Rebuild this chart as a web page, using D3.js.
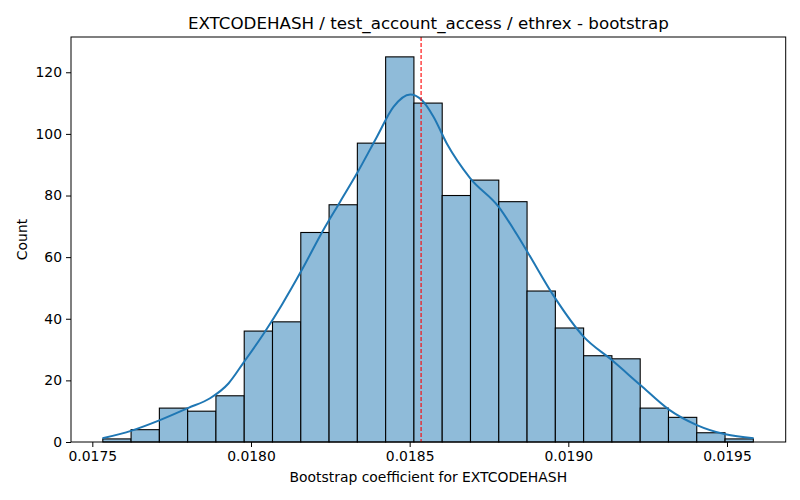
<!DOCTYPE html>
<html>
<head>
<meta charset="utf-8">
<script src="https://cdn.jsdelivr.net/npm/d3@7"></script>
<style>
  body { margin: 0; background: #fff; }
  svg text { font-family: "DejaVu Sans", sans-serif; fill: #000; }
</style>
</head>
<body>
<div class="chart"></div>
<script>
// histogram counts, one per bin
var counts = [1, 4, 11, 10, 15, 36, 39, 68, 77, 97, 125, 110, 80, 85, 78, 49, 37, 28, 27, 11, 8, 3, 1];
var binStart = 0.017533;
var binEnd = 0.019583;

// kde curve (scaled to counts)
var kdeX = [0.017532, 0.017624, 0.017713, 0.017803, 0.017871, 0.017929, 0.017976, 0.018044,
  0.018097, 0.018160, 0.018228, 0.018281, 0.018334, 0.018397, 0.018449, 0.018502, 0.018538,
  0.018575, 0.018617, 0.018691, 0.018780, 0.018837, 0.018874, 0.018959, 0.019048, 0.019137,
  0.019227, 0.019316, 0.019405, 0.019495, 0.019584];
var kdeY = [1.2, 3.7, 7.1, 11.1, 14.2, 19.0, 25.7, 35.8, 44.5, 55.8, 68.8, 78.0, 87.2, 99.1,
  108.8, 112.8, 111.0, 105.6, 96.9, 85.6, 76.4, 67.5, 61.2, 46.6, 34.2, 26.6, 18.5, 10.6,
  5.5, 2.5, 1.2];

var meanValue = 0.018536;
var xTicks = [0.0175, 0.0180, 0.0185, 0.0190, 0.0195];
var yTicks = [0, 20, 40, 60, 80, 100, 120];

var width = 800;
var height = 500;
var margin = { top: 37, right: 14.3, bottom: 58, left: 71 };

var svg = d3
  .select(".chart")
  .append("svg")
  .attr("width", width)
  .attr("height", height);

var x = d3.scaleLinear()
  .domain([0.0174328, 0.019685])
  .range([margin.left, width - margin.right]);

var y = d3.scaleLinear()
  .domain([0, 131.45])
  .range([height - margin.bottom, margin.top]);

var binWidth = (binEnd - binStart) / counts.length;

// bars
svg.append("g")
  .selectAll("rect")
  .data(counts)
  .enter()
  .append("rect")
  .attr("x", (d, i) => x(binStart + i * binWidth))
  .attr("y", (d) => y(d))
  .attr("width", (d, i) => x(binStart + (i + 1) * binWidth) - x(binStart + i * binWidth))
  .attr("height", (d) => y(0) - y(d))
  .style("fill", "#8fbbd9")
  .style("stroke", "#000")
  .style("stroke-width", 1.1);

// kde line
var line = d3.line()
  .x((d, i) => x(kdeX[i]))
  .y((d) => y(d))
  .curve(d3.curveMonotoneX);

svg.append("path")
  .datum(kdeY)
  .attr("d", line)
  .style("fill", "none")
  .style("stroke", "#1f77b4")
  .style("stroke-width", 2);

// mean line
svg.append("line")
  .attr("x1", x(meanValue))
  .attr("x2", x(meanValue))
  .attr("y1", margin.top)
  .attr("y2", height - margin.bottom)
  .style("stroke", "red")
  .style("stroke-width", 1.1)
  .style("stroke-dasharray", "4,2");

// axes
var xAxis = d3.axisBottom(x)
  .tickValues(xTicks)
  .tickFormat(d3.format(".4f"))
  .tickSizeInner(5)
  .tickSizeOuter(0)
  .tickPadding(4);

var yAxis = d3.axisLeft(y)
  .tickValues(yTicks)
  .tickSizeInner(5)
  .tickSizeOuter(0)
  .tickPadding(4);

var gx = svg.append("g")
  .attr("transform", `translate(0,${height - margin.bottom})`)
  .call(xAxis);
var gy = svg.append("g")
  .attr("transform", `translate(${margin.left},0)`)
  .call(yAxis);

[gx, gy].forEach(function (g) {
  g.select(".domain").remove();
  g.selectAll("text").style("font-size", "13.9px").attr("font-family", null);
  g.selectAll("line").style("stroke", "#000").style("stroke-width", 1);
});

// frame
svg.append("rect")
  .attr("x", margin.left)
  .attr("y", margin.top)
  .attr("width", width - margin.right - margin.left)
  .attr("height", height - margin.bottom - margin.top)
  .style("fill", "none")
  .style("stroke", "#000")
  .style("stroke-width", 1);

// titles
svg.append("text")
  .attr("x", (margin.left + width - margin.right) / 2)
  .attr("y", 29)
  .attr("text-anchor", "middle")
  .style("font-size", "16.7px")
  .text("EXTCODEHASH / test_account_access / ethrex - bootstrap");

svg.append("text")
  .attr("x", (margin.left + width - margin.right) / 2)
  .attr("y", 482)
  .attr("text-anchor", "middle")
  .style("font-size", "13.9px")
  .text("Bootstrap coefficient for EXTCODEHASH");

svg.append("text")
  .attr("transform", `translate(27,${(margin.top + height - margin.bottom) / 2}) rotate(-90)`)
  .attr("text-anchor", "middle")
  .style("font-size", "13.9px")
  .text("Count");
</script>
</body>
</html>
